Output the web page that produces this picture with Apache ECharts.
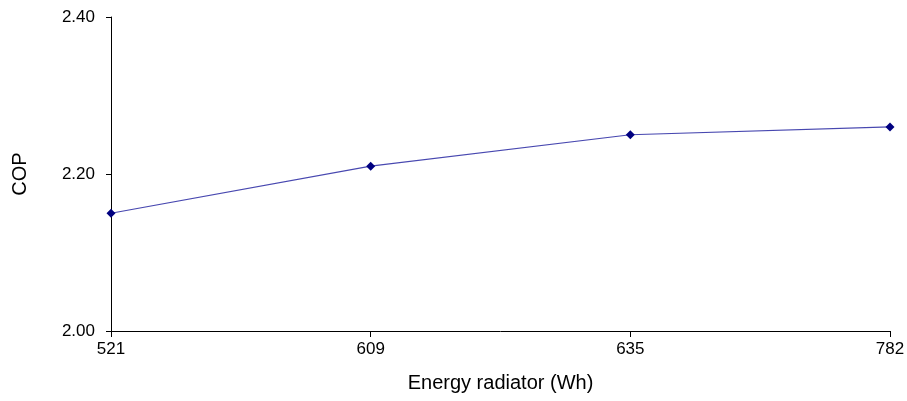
<!DOCTYPE html>
<html><head><meta charset="utf-8">
<script src="https://cdn.jsdelivr.net/npm/echarts@6/dist/echarts.min.js"></script>
<style>html,body{margin:0;padding:0;background:#fff}#c{width:907px;height:401px}</style>
</head><body><div id="c"></div>
<script>
const categories = ['521', '609', '635', '782'];
const copValues = [2.15, 2.21, 2.25, 2.26];
const yTicks = [2.0, 2.2, 2.4];

const chart = echarts.init(document.getElementById('c'));
const font = 'Liberation Sans, Arial, sans-serif';
chart.setOption({
  animation: false,
  grid: {left: 111, right: 17, top: 17, bottom: 70, containLabel: false, outerBoundsMode: 'none'},
  xAxis: {
    type: 'category', data: categories, boundaryGap: false,
    name: 'Energy radiator (Wh)', nameLocation: 'middle', nameGap: 42,
    nameTextStyle: {fontFamily: font, fontSize: 20, color: '#000'},
    axisLine: {lineStyle: {color: '#000', width: 1}},
    axisTick: {show: true, length: 6, lineStyle: {color: '#000'}},
    axisLabel: {fontFamily: font, fontSize: 17, color: '#000', margin: 10},
    splitLine: {show: false}
  },
  yAxis: {
    type: 'value', min: yTicks[0], max: yTicks[yTicks.length - 1], interval: 0.2,
    name: 'COP', nameLocation: 'middle', nameGap: 81, nameRotate: 90,
    nameTextStyle: {fontFamily: font, fontSize: 20, color: '#000'},
    axisLine: {show: true, lineStyle: {color: '#000', width: 1}},
    axisTick: {show: true, length: 5, lineStyle: {color: '#000'}},
    axisLabel: {fontFamily: font, fontSize: 17, color: '#000', margin: 16, formatter: v => v.toFixed(2)},
    splitLine: {show: false}
  },
  series: [{
    type: 'line', data: copValues,
    symbol: 'diamond', symbolSize: 9,
    lineStyle: {color: '#4848b0', width: 1.2},
    itemStyle: {color: '#000080'}
  }]
});
</script></body></html>
